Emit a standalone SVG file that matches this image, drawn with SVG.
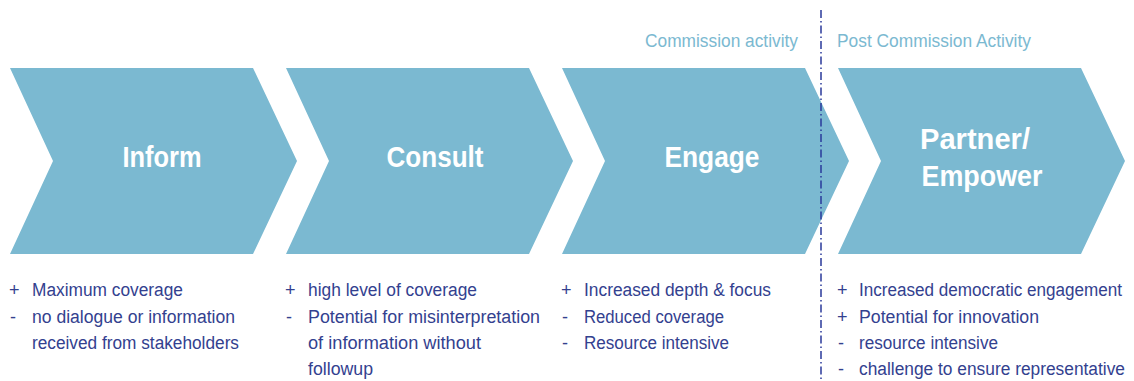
<svg xmlns="http://www.w3.org/2000/svg" width="1134" height="381" viewBox="0 0 1134 381">
<style>
.chev{fill:#7bb9d1}
.title{font-family:"Liberation Sans",Arial,sans-serif;font-weight:bold;font-size:30px;fill:#ffffff;text-anchor:middle}
.phase{font-family:"Liberation Sans",Arial,sans-serif;font-size:19px;fill:#7bb9d1}
.b{font-family:"Liberation Sans",Arial,sans-serif;font-size:18px;fill:#33418f}
.sep{stroke:#2a3a9a;stroke-width:1.5;stroke-dasharray:8 3 1.5 3;fill:none}
</style>
<rect width="1134" height="381" fill="#ffffff"/>
<g id="inform">
<polygon class="chev" points="10,68 253,68 297,161 253,254 10,254 53,161"/>
<text class="title" x="162" y="167" textLength="79" lengthAdjust="spacingAndGlyphs">Inform</text>
<text class="b" x="9" y="296">+</text><text class="b" x="32" y="296" textLength="151" lengthAdjust="spacingAndGlyphs">Maximum coverage</text>
<text class="b" x="10" y="323">-</text><text class="b" x="32" y="323" textLength="203" lengthAdjust="spacingAndGlyphs">no dialogue or information</text>
<text class="b" x="32" y="349" textLength="207" lengthAdjust="spacingAndGlyphs">received from stakeholders</text>
</g>
<g id="consult">
<polygon class="chev" points="286,68 529,68 573,161 529,254 286,254 329,161"/>
<text class="title" x="435" y="167" textLength="97" lengthAdjust="spacingAndGlyphs">Consult</text>
<text class="b" x="285" y="296">+</text><text class="b" x="308" y="296" textLength="169" lengthAdjust="spacingAndGlyphs">high level of coverage</text>
<text class="b" x="286" y="323">-</text><text class="b" x="308" y="323" textLength="232" lengthAdjust="spacingAndGlyphs">Potential for misinterpretation</text>
<text class="b" x="308" y="349" textLength="173" lengthAdjust="spacingAndGlyphs">of information without</text>
<text class="b" x="308" y="375" textLength="65" lengthAdjust="spacingAndGlyphs">followup</text>
</g>
<g id="engage">
<polygon class="chev" points="562,68 805,68 849,161 805,254 562,254 605,161"/>
<text class="title" x="712" y="167" textLength="95" lengthAdjust="spacingAndGlyphs">Engage</text>
<text class="b" x="561" y="296">+</text><text class="b" x="584" y="296" textLength="187" lengthAdjust="spacingAndGlyphs">Increased depth &amp; focus</text>
<text class="b" x="562" y="323">-</text><text class="b" x="584" y="323" textLength="140" lengthAdjust="spacingAndGlyphs">Reduced coverage</text>
<text class="b" x="562" y="349">-</text><text class="b" x="584" y="349" textLength="145" lengthAdjust="spacingAndGlyphs">Resource intensive</text>
</g>
<g id="partner">
<polygon class="chev" points="838,68 1081,68 1125,161 1081,254 838,254 881,161"/>
<text class="title" x="975" y="149" textLength="110" lengthAdjust="spacingAndGlyphs">Partner/</text>
<text class="title" x="982" y="186" textLength="121" lengthAdjust="spacingAndGlyphs">Empower</text>
<text class="b" x="837" y="296">+</text><text class="b" x="859" y="296" textLength="263" lengthAdjust="spacingAndGlyphs">Increased democratic engagement</text>
<text class="b" x="837" y="323">+</text><text class="b" x="859" y="323" textLength="180" lengthAdjust="spacingAndGlyphs">Potential for innovation</text>
<text class="b" x="838" y="349">-</text><text class="b" x="859" y="349" textLength="139" lengthAdjust="spacingAndGlyphs">resource intensive</text>
<text class="b" x="838" y="375">-</text><text class="b" x="859" y="375" textLength="266" lengthAdjust="spacingAndGlyphs">challenge to ensure representative</text>
</g>
<g id="phases">
<text class="phase" x="645" y="47" textLength="153" lengthAdjust="spacingAndGlyphs">Commission activity</text>
<text class="phase" x="837" y="47" textLength="194" lengthAdjust="spacingAndGlyphs">Post Commission Activity</text>
</g>
<g id="connectors">
<line class="sep" x1="821" y1="10" x2="821" y2="381"/>
</g>
</svg>
